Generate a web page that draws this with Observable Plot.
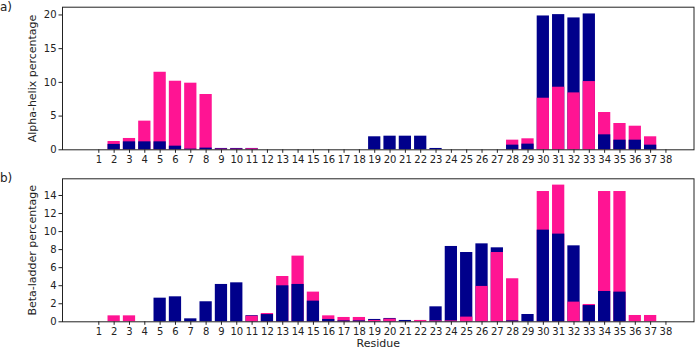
<!DOCTYPE html>
<html><head><meta charset="utf-8">
<script src="https://cdn.jsdelivr.net/npm/d3@7"></script>
<script src="https://cdn.jsdelivr.net/npm/@observablehq/plot@0.6"></script>
<style>
body{margin:0;background:#fff;font-family:"DejaVu Sans",sans-serif;}
#wrap{position:relative;width:696px;height:349px;overflow:hidden;}
.lbl{position:absolute;font-size:12px;color:#222;line-height:14px;}
</style></head><body>
<div id="wrap">
<div id="pa" style="position:absolute;left:0;top:0"></div>
<div id="pb" style="position:absolute;left:0;top:170px"></div>
<div class="lbl" style="left:0;top:0px">a)</div>
<div class="lbl" style="left:0;top:171px">b)</div>
</div>
<script>
const residues = d3.range(1, 39);
const alphaNavy = [0,0.8,1.18,1.18,1.18,0.54,0.1,0.25,0.2,0.2,0.2,0,0,0,0,0,0,0,1.93,2.02,2.02,2.02,0.2,0,0,0,0,0.69,0.84,19.85,20.05,19.56,20.15,2.22,1.43,1.43,0.69,0];
const alphaPink = [0,1.23,1.68,4.25,11.5,10.17,9.88,8.2,0.1,0.1,0.15,0,0,0,0,0,0,0,0,0,0,0,0,0,0,0,0,1.43,1.63,7.65,9.28,8.44,10.12,5.53,3.9,3.5,1.93,0];
const betaNavy = [0,0,0,0,2.62,2.77,0.33,2.22,4.14,4.32,0.68,0.8,3.99,4.14,2.29,0.26,0.1,0.1,0.26,0.37,0.15,0,1.66,8.35,7.68,8.64,8.2,0.1,0.81,10.16,9.72,8.42,1.8,3.36,3.29,0,0,0];
const betaPink = [0,0.66,0.66,0,0,0,0,0,0,0,0.62,0.92,5.02,7.28,3.29,0.66,0.48,0.48,0.15,0.3,0,0.15,0.1,0.1,0.52,3.92,7.68,4.77,0,14.44,15.15,2.18,1.92,14.44,14.44,0.7,0.7,0];
const seriesNames = ["series A", "series B"];
const seriesColors = ["#00008B", "#FF1493"];
const alphaTicks = [0, 5, 10, 15, 20];
const betaTicks = [0, 2, 4, 6, 8, 10, 12, 14];

function panel(navy, pink, o) {
  const data = [];
  residues.forEach((r, i) => {
    if (navy[i] > 0) data.push({residue: r, series: seriesNames[0], value: navy[i]});
    if (pink[i] > 0) data.push({residue: r, series: seriesNames[1], value: pink[i]});
  });
  data.sort((a, b) => b.value - a.value);
  const svg = Plot.plot({
    width: 696, height: o.height,
    marginLeft: 62, marginRight: 2.5, marginTop: o.marginTop, marginBottom: o.marginBottom,
    style: {fontFamily: "DejaVu Sans", fontSize: "10px", color: "#222", background: "white", overflow: "visible"},
    x: {domain: [-1.37, 39.83], ticks: residues, tickFormat: d => String(d), label: o.xLabel,
        labelAnchor: "center", labelArrow: "none", labelOffset: 25.5, tickSize: 3.5, tickPadding: 2.5},
    y: {domain: [0, o.yMax], ticks: o.yTicks, tickFormat: d => String(d), label: o.yLabel,
        labelAnchor: "center", labelArrow: "none", labelOffset: 34, tickSize: 3.5, tickPadding: 2.5},
    color: {domain: seriesNames, range: seriesColors},
    marks: [
      Plot.rect(data, {x1: d => d.residue - 0.4, x2: d => d.residue + 0.4, y1: 0, y2: "value", fill: "series"}),
      Plot.frame({stroke: "#222", strokeWidth: 1})
    ]
  });
  svg.querySelectorAll("text").forEach(t => {
    if (t.textContent === o.yLabel || t.textContent === o.xLabel) t.style.fontSize = "11px";
  });
  return svg;
}

document.getElementById("pa").append(panel(alphaNavy, alphaPink, {
  height: 170, marginTop: 6.7, marginBottom: 20.7, yMax: 21.15, yTicks: alphaTicks,
  yLabel: "Alpha-helix percentage", xLabel: null
}));
document.getElementById("pb").append(panel(betaNavy, betaPink, {
  height: 179, marginTop: 8.3, marginBottom: 27.7, yMax: 15.85, yTicks: betaTicks,
  yLabel: "Beta-ladder percentage", xLabel: "Residue"
}));
</script>
</body></html>
